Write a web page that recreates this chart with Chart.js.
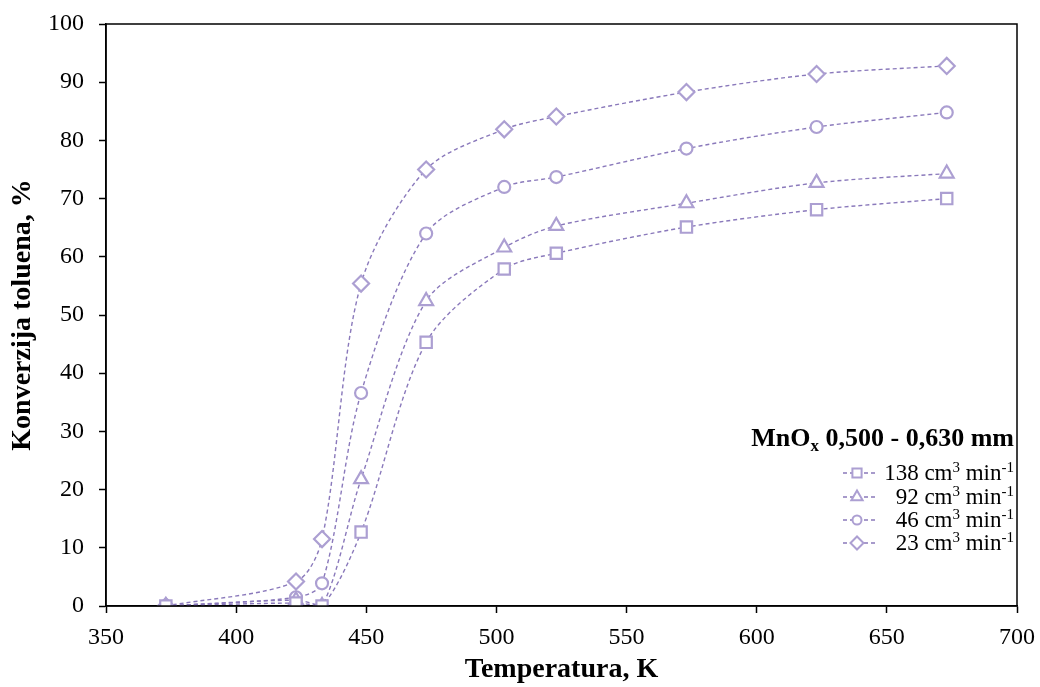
<!DOCTYPE html>
<html>
<head>
<meta charset="utf-8">
<script src="https://cdn.jsdelivr.net/npm/chart.js@4.4.1/dist/chart.umd.min.js"></script>
<style>
    html, body { margin: 0; padding: 0; background: #fff; }
    #wrap { width: 1040px; height: 687px; }
</style>
</head>
<body>
<div id="wrap"><canvas id="konverzijaChart" width="1040" height="687"></canvas></div>
<script>
// temperature, K
const temperatures = [373, 423, 433, 448, 473, 503, 523, 573, 623, 673];

// toluene conversion, % (per flow rate)
const flow138 = [0, 0.5, 0, 12.7, 45.3, 57.9, 60.6, 65.1, 68.1, 70.0];
const flow92 = [0, 1.0, 0, 21.8, 52.4, 61.6, 65.3, 69.2, 72.7, 74.3];
const flow46 = [0, 1.5, 3.9, 36.6, 64.0, 72.0, 73.7, 78.6, 82.3, 84.8];
const flow23 = [0, 4.2, 11.5, 55.4, 75.0, 81.9, 84.1, 88.3, 91.4, 92.8];

const seriesLabels = ['138', '92', '46', '23'];
const xTicks = [350, 400, 450, 500, 550, 600, 650, 700];
const yTicks = [0, 10, 20, 30, 40, 50, 60, 70, 80, 90, 100];

const lineColor = '#8a79bb';
const markColor = '#ac9fd2';
const serif = "'Liberation Serif', 'Times New Roman', serif";

function points(values) {
    return temperatures.map((t, i) => ({x: t, y: values[i]}));
}

function makeSet(label, values, style, radius) {
    return {
        label: label,
        data: points(values),
        borderColor: lineColor,
        borderWidth: 1.4,
        borderDash: [4, 3],
        tension: 0.3,
        fill: false,
        pointStyle: style,
        pointRadius: radius,
        pointBorderWidth: 2.2,
        pointBorderColor: markColor,
        pointBackgroundColor: '#fff'
    };
}

const styles = ['rect', 'triangle', 'circle', 'rectRot'];
const radii = [8, 8, 6, 8];

// draws text with sub/superscript pieces, right aligned
function drawRich(ctx, parts, xRight, baseline, size, bold) {
    const w = bold ? 'bold ' : '';
    const fontFor = (kind) => w + (kind === 'n' ? size : Math.round(size * 0.65)) + 'px ' + serif;
    let total = 0;
    parts.forEach(p => { ctx.font = fontFor(p[1]); total += ctx.measureText(p[0]).width; });
    let x = xRight - total;
    ctx.textAlign = 'left';
    ctx.textBaseline = 'alphabetic';
    parts.forEach(p => {
        ctx.font = fontFor(p[1]);
        let dy = 0;
        if (p[1] === 'sup') dy = -size * 0.36;
        if (p[1] === 'sub') dy = size * 0.2;
        ctx.fillText(p[0], x, baseline + dy);
        x += ctx.measureText(p[0]).width;
    });
    return xRight - total;
}

const framePlugin = {
    id: 'frame',
    afterDraw(chart) {
        const ctx = chart.ctx;
        const a = chart.chartArea;
        ctx.save();
        ctx.strokeStyle = '#000';
        ctx.lineWidth = 1.5;
        ctx.strokeRect(a.left, a.top, a.right - a.left, a.bottom - a.top);

        // legend
        ctx.fillStyle = '#000';
        drawRich(ctx, [['MnO', 'n'], ['x', 'sub'], [' 0,500 - 0,630 mm', 'n']], 1014, 446, 26, true);
        const rows = [473, 497, 520, 543];
        seriesLabels.forEach((lab, i) => {
            const y = rows[i];
            ctx.fillStyle = '#000';
            drawRich(ctx, [[lab + ' cm', 'n'], ['3', 'sup'], [' min', 'n'], ['-1', 'sup']], 1014, y + 7, 23, false);
            const mx = 857;
            ctx.strokeStyle = lineColor;
            ctx.lineWidth = 1.3;
            ctx.setLineDash([4, 3]);
            ctx.beginPath();
            ctx.moveTo(843, y);
            ctx.lineTo(877, y);
            ctx.stroke();
            ctx.setLineDash([]);
            ctx.fillStyle = '#fff';
            ctx.strokeStyle = markColor;
            ctx.lineWidth = 2;
            Chart.helpers.drawPoint(ctx, {pointStyle: styles[i], radius: radii[i] - 1.5, borderWidth: 2, rotation: 0}, mx, y);
        });
        ctx.restore();
    }
};

new Chart('konverzijaChart', {
    type: 'line',
    data: {
        datasets: [
            makeSet('138', flow138, styles[0], radii[0]),
            makeSet('92', flow92, styles[1], radii[1]),
            makeSet('46', flow46, styles[2], radii[2]),
            makeSet('23', flow23, styles[3], radii[3])
        ]
    },
    options: {
        responsive: false,
        animation: false,
        devicePixelRatio: 1,
        layout: { padding: { left: 0, right: 23, top: 24, bottom: 0 } },
        plugins: {
            legend: { display: false },
            tooltip: { enabled: false }
        },
        scales: {
            x: {
                type: 'linear',
                min: 350,
                max: 700,
                afterBuildTicks: (s) => { s.ticks = xTicks.map(v => ({value: v})); },
                afterFit: (s) => { s.height = 81; s.paddingLeft = 0; s.paddingRight = 0; },
                ticks: { color: '#000', font: { family: serif, size: 24 }, padding: 10 },
                grid: { drawOnChartArea: false, tickLength: 7, tickColor: '#000', tickWidth: 1.5 },
                border: { color: '#000', width: 1.5 },
                title: { display: true, text: 'Temperatura, K', color: '#000',
                    font: { family: serif, size: 28, weight: 'bold' }, padding: { top: 0, bottom: 0 } }
            },
            y: {
                min: 0,
                max: 100,
                afterBuildTicks: (s) => { s.ticks = yTicks.map(v => ({value: v})); },
                afterFit: (s) => { s.width = 106; s.paddingTop = 0; s.paddingBottom = 0; },
                ticks: { color: '#000', font: { family: serif, size: 24 }, padding: 15 },
                grid: { drawOnChartArea: false, tickLength: 7, tickColor: '#000', tickWidth: 1.5 },
                border: { color: '#000', width: 1.5 },
                title: { display: true, text: 'Konverzija toluena, %', color: '#000',
                    font: { family: serif, size: 28, weight: 'bold' }, padding: { top: 6, bottom: 0 } }
            }
        }
    },
    plugins: [framePlugin]
});
</script>
</body>
</html>
